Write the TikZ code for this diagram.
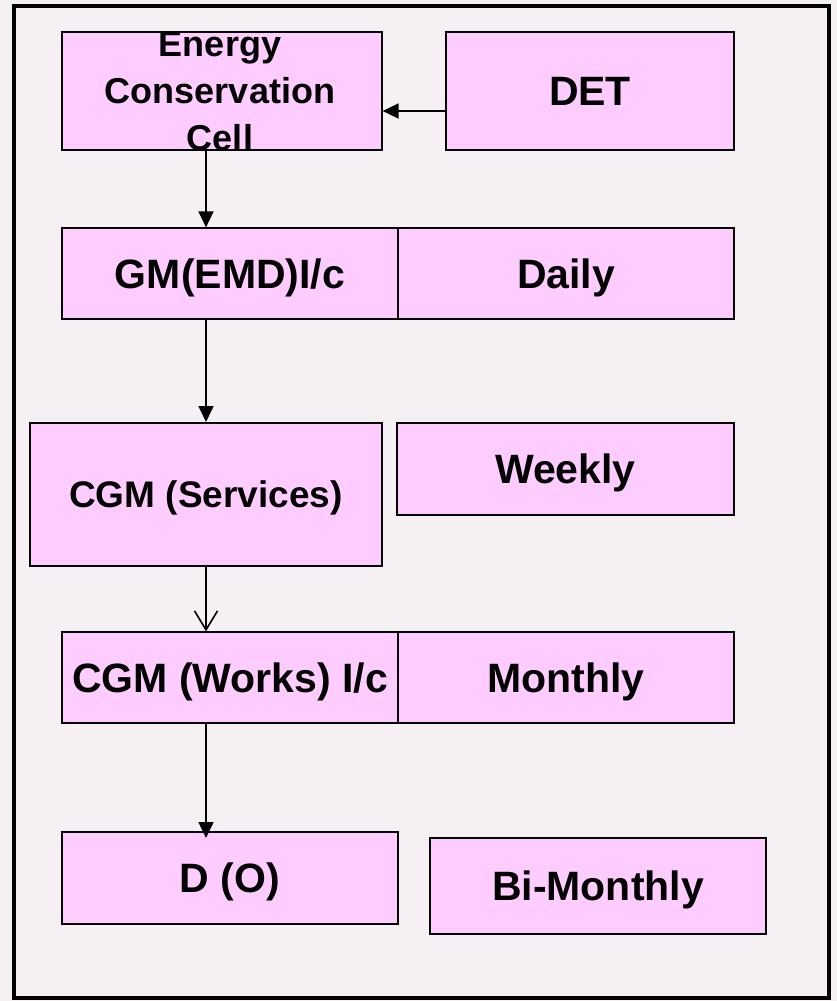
\documentclass[tikz,border=0pt]{standalone}
\usepackage{fontspec}
\setmainfont{Liberation Sans}
\usetikzlibrary{arrows.meta,calc}
\definecolor{pagebg}{HTML}{F5F0F3}
\definecolor{boxfill}{HTML}{FFCCFF}

\begin{document}
\begin{tikzpicture}[x=1pt,y=-1pt,
  box/.style={draw=black, fill=boxfill, inner sep=0pt, text height=29pt, text depth=0pt,
              font=\fontsize{41}{49}\selectfont\bfseries},
  thin box/.style={box, line width=1.2pt},
  thick box/.style={box, line width=2pt},
  flow/.style={line width=1.6pt, -{Triangle[length=16pt,width=15pt]}},
  open flow/.style={line width=1.6pt, -{Straight Barb[length=19pt,width=23pt]}},
  frame/.style={draw=black, line width=3.2pt},
]
% page and outer frame
\fill[pagebg] (0,0) rectangle (837,1001);
\useasboundingbox (0,0) rectangle (837,1001);
\draw[frame] (14,6) rectangle (829,998);

% vertical line of the reporting chain
\coordinate (spine) at (206,0);

% boxes
\node[thin box, minimum width=320pt, minimum height=118pt] (ecc) at (222,91) {};
\node[font=\fontsize{36}{47}\selectfont\bfseries, align=center, inner sep=0pt] (ecctext) at (220,91)
  {Energy\\Conservation\\Cell};
\node[thin box, minimum width=288pt, minimum height=118pt] (det) at (590,91) {DET};

\node[thin box, minimum width=336pt, minimum height=91pt] (gm) at (230,273.5) {GM(EMD)I/c};
\node[thin box, minimum width=336pt, minimum height=91pt] (daily) at (566,273.5) {Daily};

\node[thick box, minimum width=352pt, minimum height=143pt, text height=26.5pt,
      font=\fontsize{37}{44}\selectfont\bfseries] (serv) at (206,494.5) {CGM (Services)};
\node[thick box, minimum width=337pt, minimum height=92pt] (weekly) at (565.5,469) {Weekly};

\node[thin box, minimum width=336pt, minimum height=91pt] (works) at (230,677.5) {CGM (Works) I/c};
\node[thin box, minimum width=336pt, minimum height=91pt] (monthly) at (566,677.5) {Monthly};

\node[thick box, minimum width=336pt, minimum height=92pt] (dO) at (230,878) {D (O)};
\node[thick box, minimum width=336pt, minimum height=96pt] (bim) at (598,886) {Bi-Monthly};

% connectors
\draw[flow] ([yshift=-20pt]det.west) -- ([yshift=-20pt]ecc.east);
\draw[flow] (ecc.south -| spine) -- (gm.north -| spine);
\draw[flow] (gm.south -| spine) -- (serv.north);
\draw[open flow] (serv.south) -- (works.north -| spine);
\draw[flow] (works.south -| spine) -- ([yshift=-7pt]dO.north -| spine);
\end{tikzpicture}
\end{document}
